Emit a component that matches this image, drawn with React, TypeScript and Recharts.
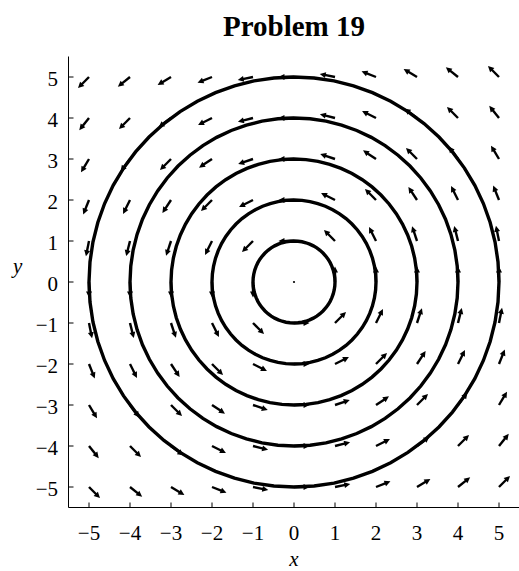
import React from 'react';
import { ComposedChart, Scatter, XAxis, YAxis, ReferenceLine } from 'recharts';

// Grid of sample points for the direction field
const gridX = [-5, -4, -3, -2, -1, 0, 1, 2, 3, 4, 5];
const gridY = [-5, -4, -3, -2, -1, 0, 1, 2, 3, 4, 5];
const axisTicks = [-5, -4, -3, -2, -1, 0, 1, 2, 3, 4, 5];
// Radii of the solution curves x^2 + y^2 = r^2
const radii = [1, 2, 3, 4, 5];
const axisDomain: [number, number] = [-5.5, 5.5];
const arrowLength = 0.38; // arrow length in data units (field is normalised)
const circleSegments = 64;

const title = 'Problem 19';
const xLabel = 'x';
const yLabel = 'y';

// Vector field F(x, y) = (-y, x)
const field = (x: number, y: number): [number, number] => [-y, x];

const circles = radii.map((r) =>
  Array.from({ length: circleSegments + 1 }, (_, i) => {
    const t = (2 * Math.PI * i) / circleSegments;
    return { x: r * Math.cos(t), y: r * Math.sin(t) };
  })
);

const arrows = gridY.flatMap((y) =>
  gridX.map((x) => {
    const [u, v] = field(x, y);
    const m = Math.hypot(u, v);
    return m === 0
      ? { x, y, x2: x, y2: y }
      : { x, y, x2: x + (arrowLength * u) / m, y2: y + (arrowLength * v) / m };
  })
);

const FONT = '"Liberation Serif", "Times New Roman", serif';

const fmt = (v: number) => (v < 0 ? `\u2212${-v}` : `${v}`);

const ArrowShape = (props: any) => {
  const { x1, y1, x2, y2 } = props;
  const dx = x2 - x1;
  const dy = y2 - y1;
  const len = Math.hypot(dx, dy);
  if (len < 0.5) return <circle cx={x1} cy={y1} r={1.1} fill="#000" />;
  const ux = dx / len;
  const uy = dy / len;
  const hl = 6;
  const hw = 3;
  const bx = x2 - ux * hl;
  const by = y2 - uy * hl;
  return (
    <g>
      <line x1={x1} y1={y1} x2={bx + ux} y2={by + uy} stroke="#000" strokeWidth={2.4} />
      <path
        d={`M${x2},${y2} L${bx - uy * hw},${by + ux * hw} L${bx + uy * hw},${by - ux * hw} Z`}
        fill="#000"
      />
    </g>
  );
};

const tickStyle = { fill: '#000', fontSize: 21, fontFamily: FONT };

export default function App() {
  return (
    <div style={{ position: 'absolute', left: 0, top: 0, width: 519, height: 571 }}>
      <div
        style={{
          position: 'absolute',
          left: 0,
          top: 11.7,
          width: 588,
          textAlign: 'center',
          fontFamily: FONT,
          fontWeight: 'bold',
          fontSize: 29,
          lineHeight: '29px',
          whiteSpace: 'nowrap',
          color: '#000',
        }}
      >
        {title}
      </div>
      <ComposedChart
        width={519}
        height={571}
        margin={{ top: 56.5, right: -0.5, bottom: 0, left: 0 }}
      >
        <XAxis
          xAxisId={0}
          type="number"
          dataKey="x"
          domain={axisDomain}
          allowDataOverflow
          ticks={axisTicks}
          tickFormatter={fmt}
          orientation="bottom"
          height={63.5}
          tickSize={-5}
          tickMargin={22.6}
          tick={tickStyle}
          axisLine={{ stroke: '#000', strokeWidth: 1 }}
          tickLine={{ stroke: '#000', strokeWidth: 1 }}
          interval={0}
          label={{
            value: xLabel,
            position: 'insideBottom',
            offset: 5,
            fill: '#000',
            fontSize: 21,
            fontStyle: 'italic',
            fontFamily: FONT,
          }}
        />
        <XAxis
          xAxisId="top"
          type="number"
          domain={axisDomain}
          allowDataOverflow
          ticks={axisTicks}
          orientation="top"
          height={0}
          tickSize={-5}
          tick={false}
          axisLine={{ stroke: '#000', strokeWidth: 1 }}
          tickLine={{ stroke: '#000', strokeWidth: 1 }}
          interval={0}
        />
        <YAxis
          yAxisId={0}
          type="number"
          dataKey="y"
          domain={axisDomain}
          allowDataOverflow
          ticks={axisTicks}
          tickFormatter={fmt}
          orientation="left"
          width={68.5}
          tickSize={-5}
          tickMargin={15.5}
          tick={{ ...tickStyle, dy: 2 }}
          axisLine={{ stroke: '#000', strokeWidth: 1 }}
          tickLine={{ stroke: '#000', strokeWidth: 1 }}
          interval={0}
          label={{
            value: yLabel,
            position: 'insideLeft',
            offset: 13,
            dy: -16,
            fill: '#000',
            fontSize: 21,
            fontStyle: 'italic',
            fontFamily: FONT,
          }}
        />
        <YAxis
          yAxisId="right"
          type="number"
          domain={axisDomain}
          allowDataOverflow
          ticks={axisTicks}
          orientation="right"
          width={0}
          tickSize={-5}
          tick={false}
          axisLine={{ stroke: '#000', strokeWidth: 1 }}
          tickLine={{ stroke: '#000', strokeWidth: 1 }}
          interval={0}
        />
        {circles.map((c, i) => (
          <Scatter
            key={`circle-${i}`}
            xAxisId={0}
            yAxisId={0}
            data={c}
            line={{ stroke: '#000', strokeWidth: 3.4 }}
            lineType="joint"
            shape={() => <g />}
            isAnimationActive={false}
          />
        ))}
        {arrows.map((a, i) => (
          <ReferenceLine
            key={`arrow-${i}`}
            xAxisId={0}
            yAxisId={0}
            segment={[
              { x: a.x, y: a.y },
              { x: a.x2, y: a.y2 },
            ]}
            ifOverflow="visible"
            shape={ArrowShape}
          />
        ))}
      </ComposedChart>
    </div>
  );
}
